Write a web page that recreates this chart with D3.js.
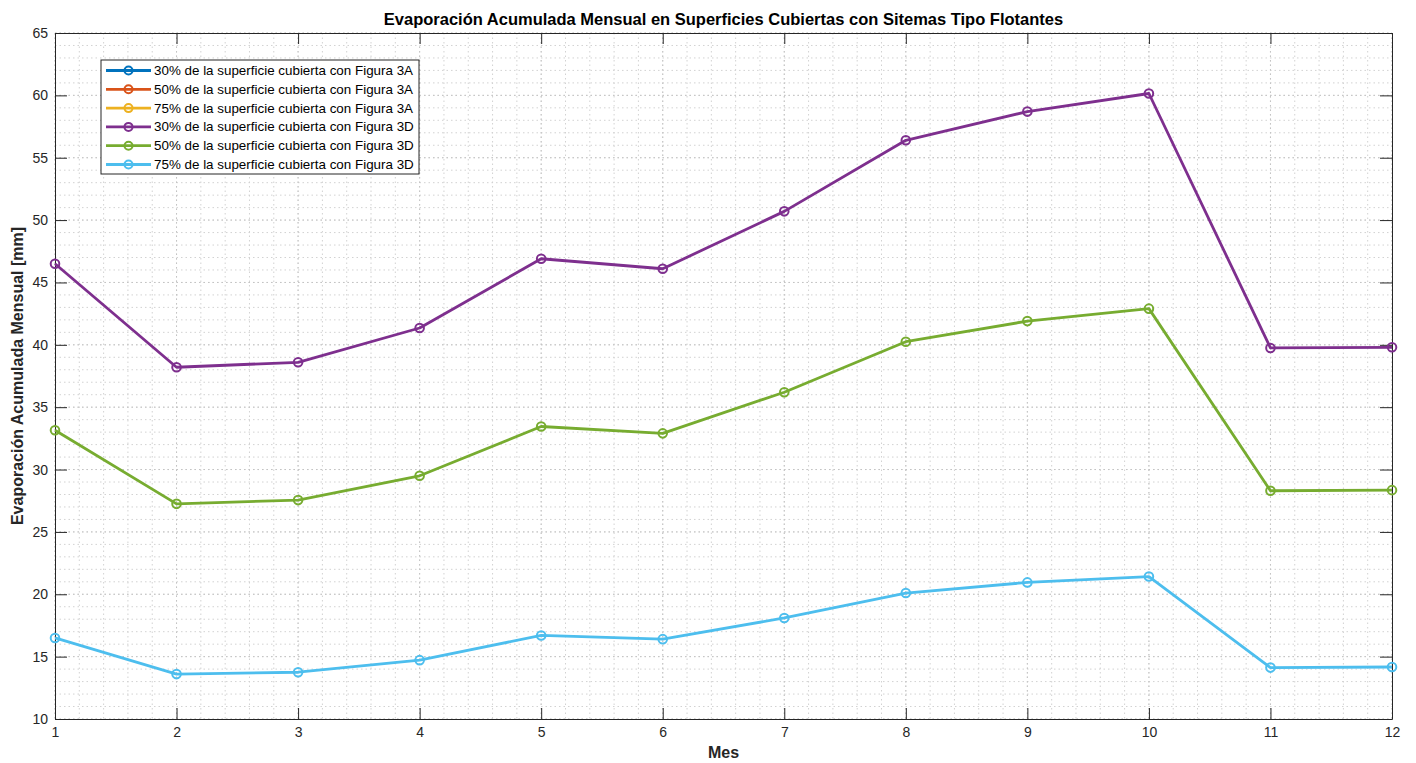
<!DOCTYPE html>
<html>
<head>
<meta charset="utf-8">
<script src="https://cdn.jsdelivr.net/npm/d3@7"></script>
<style>
  body { margin: 0; background: #fff; }
  text { font-family: "Liberation Sans", Arial, sans-serif; }
</style>
</head>
<body>
<div id="chart"></div>
<script>
//chart size
let width_svg = 1416;
let height_svg = 763;

let margin = { top: 33, right: 24, bottom: 44, left: 55 };
let width = width_svg - margin.left - margin.right;
let height = height_svg - margin.top - margin.bottom;

//==========================================================
//data
let meses = [1, 2, 3, 4, 5, 6, 7, 8, 9, 10, 11, 12];

let fig3d_30 = [46.5, 38.2, 38.6, 41.35, 46.9, 46.1, 50.7, 56.4, 58.7, 60.15, 39.75, 39.8];
let fig3d_50 = [33.15, 27.25, 27.55, 29.5, 33.45, 32.9, 36.2, 40.25, 41.9, 42.9, 28.3, 28.35];
let fig3d_75 = [16.5, 13.6, 13.75, 14.72, 16.7, 16.4, 18.1, 20.1, 20.95, 21.42, 14.12, 14.17];

//3A series: only in the legend, no line shows in the picture
let fig3a_30 = [];
let fig3a_50 = [];
let fig3a_75 = [];

let series_names = [
    "30% de la superficie cubierta con Figura 3A",
    "50% de la superficie cubierta con Figura 3A",
    "75% de la superficie cubierta con Figura 3A",
    "30% de la superficie cubierta con Figura 3D",
    "50% de la superficie cubierta con Figura 3D",
    "75% de la superficie cubierta con Figura 3D"
];
let series_colors = ["#0072BD", "#D95319", "#EDB120", "#7E2F8E", "#77AC30", "#4DBEEE"];
let series_values = [fig3a_30, fig3a_50, fig3a_75, fig3d_30, fig3d_50, fig3d_75];

let x_ticks = meses;
let y_ticks = [10, 15, 20, 25, 30, 35, 40, 45, 50, 55, 60, 65];

//==========================================================
let svg = d3.select("#chart")
            .append("svg")
            .attr("width", width_svg)
            .attr("height", height_svg);

let chart = svg.append("g")
               .attr("transform", `translate(${margin.left}, ${margin.top})`);

let x_scale = d3.scaleLinear().domain([1, 12]).range([0, width]);
let y_scale = d3.scaleLinear().domain([10, 65]).range([height, 0]);

//minor grid
let x_minor = d3.range(1, 12.0001, 0.2);
let y_minor = d3.range(10, 65.0001, 1);

chart.append("g").selectAll("line")
     .data(x_minor)
     .enter().append("line")
     .attr("x1", d => x_scale(d)).attr("x2", d => x_scale(d))
     .attr("y1", 0).attr("y2", height)
     .attr("stroke", "#d2d2d2").attr("stroke-width", 1)
     .attr("stroke-dasharray", "1.5,3");

chart.append("g").selectAll("line")
     .data(y_minor)
     .enter().append("line")
     .attr("y1", d => y_scale(d)).attr("y2", d => y_scale(d))
     .attr("x1", 0).attr("x2", width)
     .attr("stroke", "#d2d2d2").attr("stroke-width", 1)
     .attr("stroke-dasharray", "1.5,3");

//major grid
chart.append("g").selectAll("line")
     .data(x_ticks)
     .enter().append("line")
     .attr("x1", d => x_scale(d)).attr("x2", d => x_scale(d))
     .attr("y1", 0).attr("y2", height)
     .attr("stroke", "#c4c4c4").attr("stroke-width", 1)
     .attr("stroke-dasharray", "1.5,3");

chart.append("g").selectAll("line")
     .data(y_ticks)
     .enter().append("line")
     .attr("y1", d => y_scale(d)).attr("y2", d => y_scale(d))
     .attr("x1", 0).attr("x2", width)
     .attr("stroke", "#c4c4c4").attr("stroke-width", 1)
     .attr("stroke-dasharray", "1.5,3");

//==========================================================
//axes (ticks pointing inward, box on)
function style_axis(g) {
    g.selectAll("path").attr("stroke", "#262626");
    g.selectAll("line").attr("stroke", "#262626");
    g.selectAll("text").attr("fill", "#262626").style("font-size", "14px");
}

chart.append("g")
     .attr("transform", `translate(0, ${height})`)
     .call(d3.axisBottom(x_scale).tickValues(x_ticks).tickSizeInner(-11).tickSizeOuter(0).tickPadding(8).tickFormat(d3.format("d")))
     .call(style_axis);

chart.append("g")
     .call(d3.axisTop(x_scale).tickValues(x_ticks).tickSizeInner(-11).tickSizeOuter(0).tickFormat(""))
     .call(style_axis);

chart.append("g")
     .call(d3.axisLeft(y_scale).tickValues(y_ticks).tickSizeInner(-12).tickSizeOuter(0).tickPadding(7))
     .call(style_axis);

chart.append("g")
     .attr("transform", `translate(${width}, 0)`)
     .call(d3.axisRight(y_scale).tickValues(y_ticks).tickSizeInner(-12).tickSizeOuter(0).tickFormat(""))
     .call(style_axis);

//==========================================================
//lines and markers
let line_gen = d3.line()
                 .x((d, i) => x_scale(meses[i]))
                 .y(d => y_scale(d));

series_values.forEach((vals, s) => {
    if (vals.length === 0) return;
    let g = chart.append("g");
    g.append("path")
     .datum(vals)
     .attr("d", line_gen)
     .attr("fill", "none")
     .attr("stroke", series_colors[s])
     .attr("stroke-width", 2.8)
     .attr("stroke-linejoin", "round");
    g.selectAll("circle")
     .data(vals)
     .enter().append("circle")
     .attr("cx", (d, i) => x_scale(meses[i]))
     .attr("cy", d => y_scale(d))
     .attr("r", 4.3)
     .attr("fill", "none")
     .attr("stroke", series_colors[s])
     .attr("stroke-width", 2);
});

//==========================================================
//labels
svg.append("text")
   .attr("x", margin.left + width / 2)
   .attr("y", 25)
   .attr("text-anchor", "middle")
   .style("font-size", "16.5px")
   .style("font-weight", "bold")
   .attr("fill", "#000")
   .text("Evaporación Acumulada Mensual en Superficies Cubiertas con Sitemas Tipo Flotantes");

svg.append("text")
   .attr("x", margin.left + width / 2)
   .attr("y", 758)
   .attr("text-anchor", "middle")
   .style("font-size", "16px")
   .style("font-weight", "bold")
   .attr("fill", "#262626")
   .text("Mes");

svg.append("text")
   .attr("transform", `translate(23, ${margin.top + height / 2}) rotate(-90)`)
   .attr("text-anchor", "middle")
   .style("font-size", "16px")
   .style("font-weight", "bold")
   .attr("fill", "#262626")
   .text("Evaporación Acumulada Mensual [mm]");

//==========================================================
//legend
let legend = svg.append("g").attr("transform", "translate(101, 60)");
legend.append("rect")
      .attr("width", 318).attr("height", 114)
      .attr("fill", "#fff").attr("stroke", "#262626").attr("stroke-width", 1);

series_names.forEach((name, s) => {
    let ly = 10.5 + s * 18.8;
    legend.append("line")
          .attr("x1", 5).attr("x2", 50).attr("y1", ly).attr("y2", ly)
          .attr("stroke", series_colors[s]).attr("stroke-width", 2.8);
    legend.append("circle")
          .attr("cx", 27.5).attr("cy", ly).attr("r", 4)
          .attr("fill", "none").attr("stroke", series_colors[s]).attr("stroke-width", 2);
    legend.append("text")
          .attr("x", 53).attr("y", ly + 4.5)
          .style("font-size", "13.4px")
          .attr("fill", "#000")
          .text(name);
});
</script>
</body>
</html>
